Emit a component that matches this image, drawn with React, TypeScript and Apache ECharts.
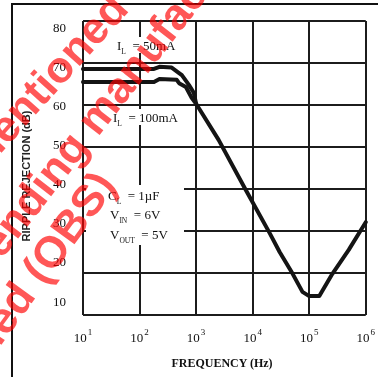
import React, { useEffect, useRef } from "react";
import * as echarts from "echarts";

// Ripple rejection vs frequency
const freq50 = [10, 180, 225, 370, 500, 560, 745, 910, 1000, 2500, 7400, 20000, 30000, 51000, 76000, 100000, 151000, 257000, 500000, 1000000];
const rej50 = [68.6, 68.6, 69.1, 68.9, 67.6, 67.1, 64.8, 62.9, 60.3, 51.7, 40.0, 29.5, 25.0, 19.8, 15.5, 14.5, 14.5, 19.8, 25.5, 32.1];
const freq100 = [10, 180, 225, 455, 500, 660, 835, 1000];
const rej100 = [65.5, 65.5, 66.2, 66.0, 65.2, 64.3, 61.7, 60.3];

const yTicks = [10, 20, 30, 40, 50, 60, 70, 80];
const xExponents = [1, 2, 3, 4, 5, 6];

const serif = "'Liberation Serif', 'Times New Roman', serif";
const sans = "'Liberation Sans', Arial, sans-serif";

function richNote(x: number, y: number, main: string, sub: string, rest: string) {
  return {
    type: "text",
    x,
    y,
    z: 60,
    style: {
      text: `{m|${main}}{s|${sub}}{m| ${rest}}`,
      align: "left",
      verticalAlign: "middle",
      textAlign: "left",
      textVerticalAlign: "middle",
      fill: "#111",
      rich: {
        m: { fontSize: 13, fontFamily: serif, lineHeight: 20, fill: "#111", verticalAlign: "middle" },
        s: { fontSize: 7.5, fontFamily: serif, fill: "#111", verticalAlign: "bottom" },
      },
    },
  };
}

function wmText(x: number, y: number, text: string, align: string, deg: number) {
  return {
    type: "text",
    x,
    y,
    z: 100,
    rotation: (deg * Math.PI) / 180,
    style: {
      text,
      font: `bold 44px ${sans}`,
      fill: "rgba(255,0,0,0.66)",
      align,
      verticalAlign: "middle",
      textAlign: align,
      textVerticalAlign: "middle",
    },
  };
}

export default function App() {
  const ref = useRef<HTMLDivElement>(null);
  useEffect(() => {
    const chart = echarts.init(ref.current!, null, { renderer: "svg" });
    const gridColor = "#1c1c1c";
    chart.setOption({
      animation: false,
      grid: [
        { left: 83, top: 21, width: 286, height: 294 },
        { left: 83, top: 27, width: 286, height: 274 },
      ],
      xAxis: [
        {
          type: "log",
          gridIndex: 0,
          logBase: 10,
          min: 10,
          max: 1000000,
          axisLine: { show: false },
          axisTick: { show: false },
          splitLine: { show: true, lineStyle: { color: gridColor, width: 2 } },
          axisLabel: {
            margin: 12,
            formatter: (v: number) => {
              const e = Math.round(Math.log10(v));
              return xExponents.includes(e) ? `{b|10}{t|${e}}` : "";
            },
            rich: {
              b: { fontSize: 13, fontFamily: serif, color: "#111", lineHeight: 20, verticalAlign: "middle" },
              t: { fontSize: 9, fontFamily: serif, color: "#111", verticalAlign: "top", padding: [0, 0, 0, 1] },
            },
          },
        },
        { type: "value", gridIndex: 1, show: false, min: 0, max: 1 },
      ],
      yAxis: [
        {
          type: "value",
          gridIndex: 0,
          min: 10,
          max: 80,
          interval: 10,
          axisLine: { show: false },
          axisTick: { show: false },
          axisLabel: { show: false },
          splitLine: { show: true, lineStyle: { color: gridColor, width: 2 } },
        },
        {
          type: "value",
          gridIndex: 1,
          min: yTicks[0],
          max: yTicks[yTicks.length - 1],
          interval: 10,
          axisLine: { show: false },
          axisTick: { show: false },
          splitLine: { show: false },
          axisLabel: { margin: 17, fontSize: 13, fontFamily: serif, color: "#111" },
        },
      ],
      series: [
        {
          type: "line",
          name: "IL=50mA",
          xAxisIndex: 0,
          yAxisIndex: 0,
          data: freq50.map((f, i) => [f, rej50[i]]),
          showSymbol: false,
          z: 5,
          lineStyle: { color: "#141414", width: 4, cap: "round", join: "round" },
        },
        {
          type: "line",
          name: "IL=100mA",
          xAxisIndex: 0,
          yAxisIndex: 0,
          data: freq100.map((f, i) => [f, rej100[i]]),
          showSymbol: false,
          z: 5,
          lineStyle: { color: "#141414", width: 4, cap: "round", join: "round" },
        },
      ],
      graphic: [
        {
          type: "rect",
          z: 1,
          shape: { x: 12, y: 4, width: 420, height: 420 },
          style: { fill: "none", stroke: "#111", lineWidth: 2 },
        },
        { type: "rect", z: 50, shape: { x: 115, y: 37, width: 56, height: 16 }, style: { fill: "#fff" } },
        { type: "rect", z: 50, shape: { x: 111, y: 109, width: 62, height: 16 }, style: { fill: "#fff" } },
        { type: "rect", z: 50, shape: { x: 86, y: 185, width: 98, height: 60 }, style: { fill: "#fff" } },
        richNote(117, 45, "I", "L", " = 50mA"),
        richNote(113, 117, "I", "L", " = 100mA"),
        richNote(108, 195, "C", "L", " = 1µF"),
        richNote(110, 214, "V", "IN", " = 6V"),
        richNote(110, 234, "V", "OUT", " = 5V"),
        {
          type: "text",
          x: 26,
          y: 176,
          z: 60,
          rotation: Math.PI / 2,
          style: {
            text: "RIPPLE REJECTION (dB)",
            font: `bold 11px ${sans}`,
            fill: "#222",
            align: "center",
            verticalAlign: "middle",
            textAlign: "center",
            textVerticalAlign: "middle",
          },
        },
        {
          type: "text",
          x: 222,
          y: 363,
          z: 60,
          style: {
            text: "FREQUENCY (Hz)",
            font: `bold 12px ${serif}`,
            fill: "#111",
            align: "center",
            verticalAlign: "middle",
            textAlign: "center",
            textVerticalAlign: "middle",
          },
        },
        wmText(118.6, -0.3, "mentioned", "right", 48),
        wmText(85.5, 128, "manufacture", "left", 52),
        wmText(77.8, 137.2, "pending", "right", 52),
        wmText(104.8, 176.3, "Discontinued (OBS)", "right", 54),
      ],
    });
    return () => chart.dispose();
  }, []);
  return <div ref={ref} style={{ position: "fixed", left: 0, top: 0, width: 378, height: 377 }} />;
}
